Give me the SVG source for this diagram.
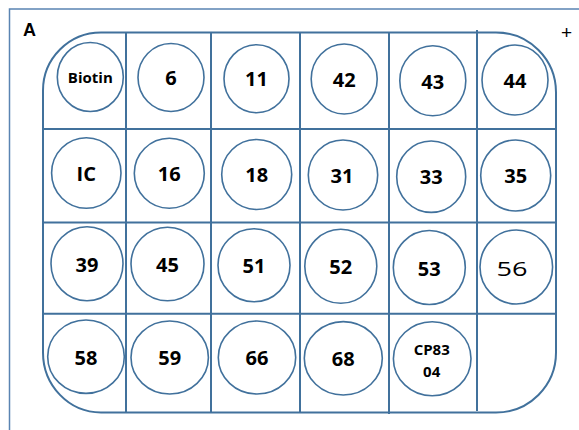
<svg xmlns="http://www.w3.org/2000/svg" width="579" height="430" viewBox="0 0 579 430">
<style>
.frame{fill:none;stroke:#5a84b2;stroke-width:1.5}
.plate{fill:none;stroke:#41719c;stroke-width:2}
.grid line{stroke:#41719c;stroke-width:2}
.well{fill:#fff;stroke:#41719c;stroke-width:1.6}
.t{font-family:"Open Sans","Liberation Sans",sans-serif;font-weight:700;font-size:20px;text-anchor:middle;fill:#000}
.s{font-size:15px}
.r{font-weight:400}
.lbl{font-family:"Liberation Sans",Arial,sans-serif;font-weight:700;font-size:18px;fill:#000}
</style>
<rect width="579" height="430" fill="#fff"/>
<rect class="frame" x="9.5" y="9" width="620" height="460"/>
<text class="lbl" x="23" y="36">A</text>
<text x="566.5" y="39" style="font-family:'Liberation Sans',Arial,sans-serif;font-size:19px;text-anchor:middle">+</text>
<g id="plate">
<path class="plate" d="M101,32.5 H496 A60,60 0 0 1 556,92.5 V352.5 A60,60 0 0 1 496,412.5 H101 A58,60 0 0 1 43,352.5 V90.5 A58,58 0 0 1 101,32.5 Z"/>
</g>
<g id="connectors" class="grid">
<line x1="126" y1="32" x2="126" y2="413"/>
<line x1="211" y1="32" x2="211" y2="413"/>
<line x1="300" y1="32" x2="300" y2="413"/>
<line x1="389" y1="32" x2="389" y2="414"/>
<line x1="477" y1="30" x2="477" y2="411"/>
<line x1="43" y1="129" x2="556" y2="129"/>
<line x1="43" y1="222.5" x2="556" y2="222.5"/>
<line x1="43" y1="313.7" x2="556" y2="313.7"/>
</g>
<g id="w-biotin"><ellipse class="well" cx="90.3" cy="77" rx="33" ry="34.5"/><text class="t s" x="90.3" y="83">Biotin</text></g>
<g id="w-6"><ellipse class="well" cx="171" cy="77.5" rx="33" ry="34"/><text class="t" x="171" y="85">6</text></g>
<g id="w-11"><ellipse class="well" cx="256.5" cy="78.7" rx="32.5" ry="34"/><text class="t" x="256.5" y="86.2">11</text></g>
<g id="w-42"><ellipse class="well" cx="344.2" cy="79" rx="33" ry="35"/><text class="t" x="344.2" y="87">42</text></g>
<g id="w-43"><ellipse class="well" cx="432.8" cy="80.8" rx="33" ry="35"/><text class="t" x="432.8" y="88.5">43</text></g>
<g id="w-44"><ellipse class="well" cx="515" cy="80" rx="33" ry="35"/><text class="t" x="515" y="87.5">44</text></g>
<g id="w-ic"><ellipse class="well" cx="86.3" cy="173" rx="34.7" ry="35.3"/><text class="t" x="86.3" y="180.5">IC</text></g>
<g id="w-16"><ellipse class="well" cx="169.3" cy="173.3" rx="35" ry="35"/><text class="t" x="169.3" y="181">16</text></g>
<g id="w-18"><ellipse class="well" cx="256.7" cy="174.5" rx="35" ry="35"/><text class="t" x="256.7" y="182">18</text></g>
<g id="w-31"><ellipse class="well" cx="343" cy="175" rx="34.7" ry="35"/><text class="t" x="342" y="182.5">31</text></g>
<g id="w-33"><ellipse class="well" cx="431.2" cy="176.7" rx="34.5" ry="35.7"/><text class="t" x="431.2" y="184">33</text></g>
<g id="w-35"><ellipse class="well" cx="515.7" cy="175.5" rx="35" ry="35.5"/><text class="t" x="515.7" y="183">35</text></g>
<g id="w-39"><ellipse class="well" cx="87" cy="263.7" rx="36" ry="37"/><text class="t" x="87" y="271.5">39</text></g>
<g id="w-45"><ellipse class="well" cx="167.5" cy="264" rx="36.5" ry="36.8"/><text class="t" x="167.5" y="271.5">45</text></g>
<g id="w-51"><ellipse class="well" cx="254" cy="265.3" rx="36" ry="36.5"/><text class="t" x="254" y="273">51</text></g>
<g id="w-52"><ellipse class="well" cx="340.8" cy="266.3" rx="36" ry="37"/><text class="t" x="340.8" y="274">52</text></g>
<g id="w-53"><ellipse class="well" cx="429.3" cy="267.5" rx="36" ry="37"/><text class="t" x="429.3" y="275.5">53</text></g>
<g id="w-56"><ellipse class="well" cx="516.3" cy="267" rx="36.3" ry="37"/><text class="t r" x="512" y="275.5" textLength="31" lengthAdjust="spacingAndGlyphs">56</text></g>
<g id="w-58"><ellipse class="well" cx="86" cy="356.7" rx="38.3" ry="36.7"/><text class="t" x="86" y="364.5">58</text></g>
<g id="w-59"><ellipse class="well" cx="169.7" cy="357.5" rx="38.7" ry="36.5"/><text class="t" x="169.7" y="365">59</text></g>
<g id="w-66"><ellipse class="well" cx="257" cy="357.5" rx="38.7" ry="36.5"/><text class="t" x="257" y="365">66</text></g>
<g id="w-68"><ellipse class="well" cx="343.3" cy="358.3" rx="39" ry="36.7"/><text class="t" x="343.3" y="366">68</text></g>
<g id="w-cp8304"><ellipse class="well" cx="432.2" cy="358.7" rx="38.8" ry="37"/><text class="t s" x="431.7" y="355">CP83</text><text class="t s" x="431.7" y="376.5">04</text></g>
</svg>
